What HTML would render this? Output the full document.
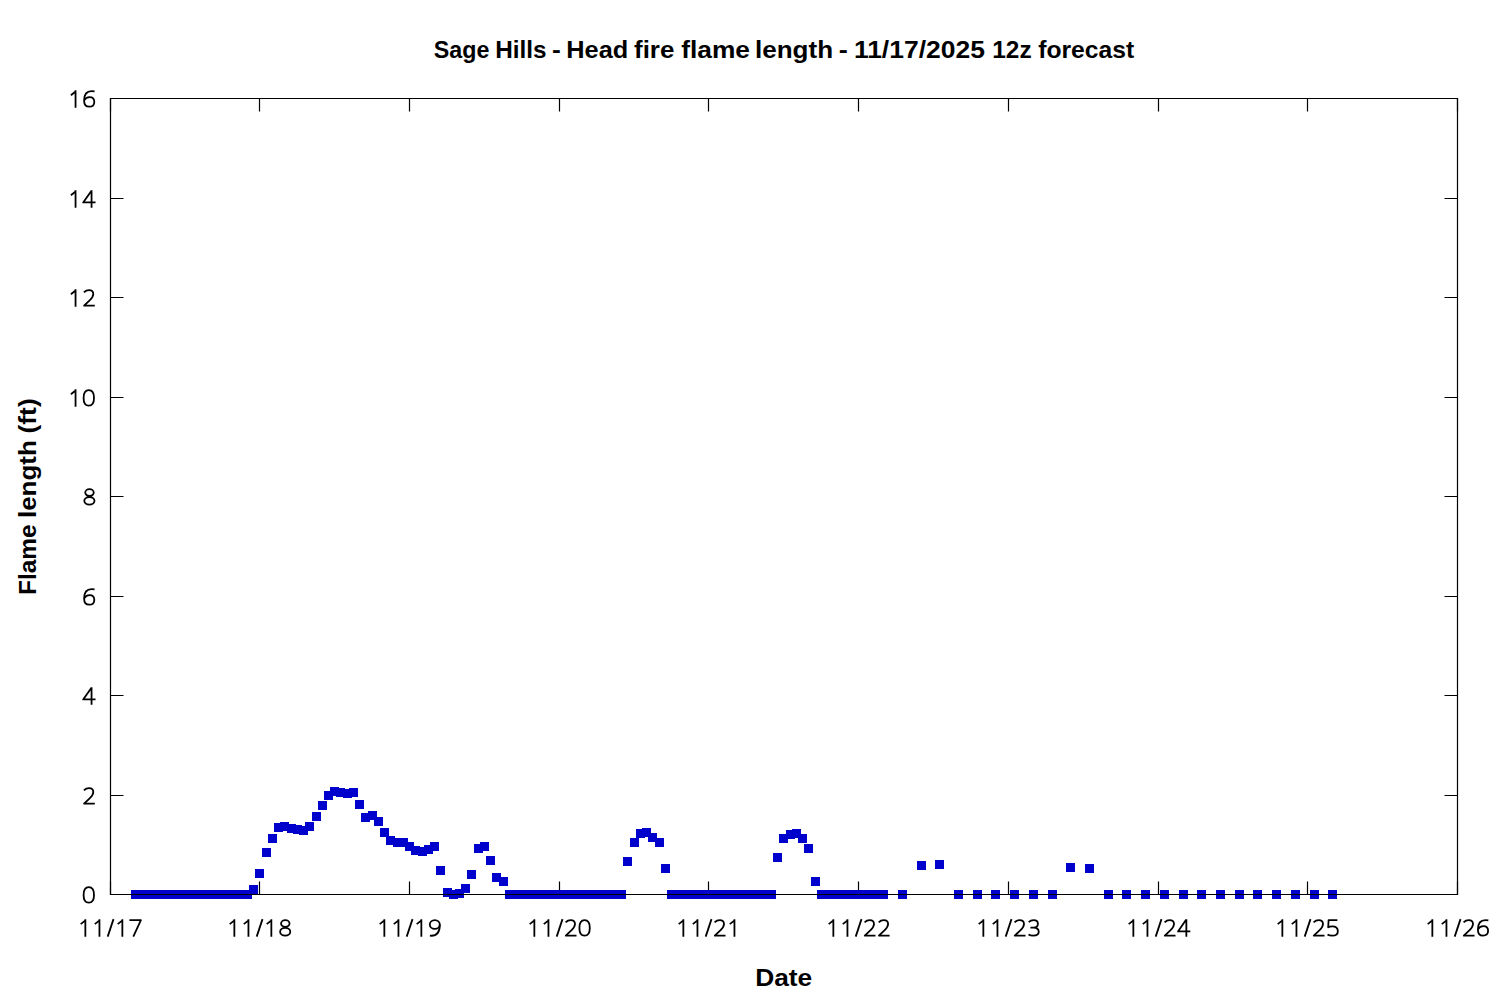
<!DOCTYPE html>
<html><head><meta charset="utf-8"><style>
html,body{margin:0;padding:0;background:#fff;}
svg{display:block;}
text{font-family:"Liberation Sans",sans-serif;fill:#000;}
</style></head><body>
<svg width="1500" height="1000" viewBox="0 0 1500 1000">
<rect x="0" y="0" width="1500" height="1000" fill="#fff"/>
<g font-size="24" font-weight="bold"><text x="433.78" y="58.3" textLength="55.58" lengthAdjust="spacingAndGlyphs">Sage</text><text x="495.22" y="58.3" textLength="51.37" lengthAdjust="spacingAndGlyphs">Hills</text><text x="552.10" y="58.3" textLength="8.80" lengthAdjust="spacingAndGlyphs">-</text><text x="566.29" y="58.3" textLength="61.89" lengthAdjust="spacingAndGlyphs">Head</text><text x="634.00" y="58.3" textLength="40.39" lengthAdjust="spacingAndGlyphs">fire</text><text x="681.20" y="58.3" textLength="68.77" lengthAdjust="spacingAndGlyphs">flame</text><text x="755.03" y="58.3" textLength="78.05" lengthAdjust="spacingAndGlyphs">length</text><text x="838.87" y="58.3" textLength="9.07" lengthAdjust="spacingAndGlyphs">-</text><text x="853.90" y="58.3" textLength="130.98" lengthAdjust="spacingAndGlyphs">11/17/2025</text><text x="992.28" y="58.3" textLength="39.44" lengthAdjust="spacingAndGlyphs">12z</text><text x="1038.20" y="58.3" textLength="95.99" lengthAdjust="spacingAndGlyphs">forecast</text></g>
<g fill="none" stroke="#000" stroke-width="1.8" stroke-linejoin="round">
<g transform="translate(82.20 886.20)"><path d="M6.6 1C10.2 1 11.8 3.6 11.8 8.75C11.8 13.9 10.2 16.5 6.6 16.5C3 16.5 1.4 13.9 1.4 8.75C1.4 3.6 3 1 6.6 1Z"/></g><g transform="translate(82.20 787.20)"><path d="M1.7 3.2C3.2 1.7 4.9 1 6.8 1C9.4 1 11.1 2.5 11.1 4.9C11.1 7.1 10 8.7 7.7 10.9L1.9 16.5H12.6"/></g><g transform="translate(82.20 687.20)"><path d="M9.35 0V17.5M13.35 12.25H1L9.1 0.7"/></g><g transform="translate(82.20 588.20)"><path d="M12.35 1.2C11.3 1 10.3 0.9 9.4 0.9C4.3 0.9 1.9 4.4 1.9 10.3C1.9 14.4 3.8 16.5 7 16.5C10.3 16.5 12.1 14.7 12.1 11.7C12.1 8.7 10.4 6.9 7.4 6.9C4.9 6.9 2.9 8.3 2.2 10"/></g><g transform="translate(82.20 488.20)"><ellipse cx="7.3" cy="4.35" rx="4.25" ry="3.35"/><ellipse cx="7.2" cy="12.65" rx="5.1" ry="3.85"/></g><g transform="translate(68.10 389.20)"><path d="M7.45 0V17.5M2.8 5L7.2 1.5"/></g><g transform="translate(82.20 389.20)"><path d="M6.6 1C10.2 1 11.8 3.6 11.8 8.75C11.8 13.9 10.2 16.5 6.6 16.5C3 16.5 1.4 13.9 1.4 8.75C1.4 3.6 3 1 6.6 1Z"/></g><g transform="translate(68.10 289.20)"><path d="M7.45 0V17.5M2.8 5L7.2 1.5"/></g><g transform="translate(82.20 289.20)"><path d="M1.7 3.2C3.2 1.7 4.9 1 6.8 1C9.4 1 11.1 2.5 11.1 4.9C11.1 7.1 10 8.7 7.7 10.9L1.9 16.5H12.6"/></g><g transform="translate(68.10 190.20)"><path d="M7.45 0V17.5M2.8 5L7.2 1.5"/></g><g transform="translate(82.20 190.20)"><path d="M9.35 0V17.5M13.35 12.25H1L9.1 0.7"/></g><g transform="translate(68.10 90.20)"><path d="M7.45 0V17.5M2.8 5L7.2 1.5"/></g><g transform="translate(82.20 90.20)"><path d="M12.35 1.2C11.3 1 10.3 0.9 9.4 0.9C4.3 0.9 1.9 4.4 1.9 10.3C1.9 14.4 3.8 16.5 7 16.5C10.3 16.5 12.1 14.7 12.1 11.7C12.1 8.7 10.4 6.9 7.4 6.9C4.9 6.9 2.9 8.3 2.2 10"/></g>
<g transform="translate(77.90 919.15)"><path d="M7.45 0V17.5M2.8 5L7.2 1.5"/></g><g transform="translate(92.00 919.15)"><path d="M7.45 0V17.5M2.8 5L7.2 1.5"/></g><g transform="translate(106.10 919.15)"><path d="M1.6 17.5L7.4 0"/></g><g transform="translate(114.90 919.15)"><path d="M7.45 0V17.5M2.8 5L7.2 1.5"/></g><g transform="translate(129.00 919.15)"><path d="M0.4 1H11.9L4.3 17.5"/></g><g transform="translate(226.90 919.15)"><path d="M7.45 0V17.5M2.8 5L7.2 1.5"/></g><g transform="translate(241.00 919.15)"><path d="M7.45 0V17.5M2.8 5L7.2 1.5"/></g><g transform="translate(255.10 919.15)"><path d="M1.6 17.5L7.4 0"/></g><g transform="translate(263.90 919.15)"><path d="M7.45 0V17.5M2.8 5L7.2 1.5"/></g><g transform="translate(278.00 919.15)"><ellipse cx="7.3" cy="4.35" rx="4.25" ry="3.35"/><ellipse cx="7.2" cy="12.65" rx="5.1" ry="3.85"/></g><g transform="translate(376.90 919.15)"><path d="M7.45 0V17.5M2.8 5L7.2 1.5"/></g><g transform="translate(391.00 919.15)"><path d="M7.45 0V17.5M2.8 5L7.2 1.5"/></g><g transform="translate(405.10 919.15)"><path d="M1.6 17.5L7.4 0"/></g><g transform="translate(413.90 919.15)"><path d="M7.45 0V17.5M2.8 5L7.2 1.5"/></g><g transform="translate(428.00 919.15)"><ellipse cx="6.8" cy="5.4" rx="5" ry="4.4"/><path d="M11.8 5.6C11.8 13 9 16.6 3.4 16.6C2.9 16.6 2.4 16.55 1.9 16.5"/></g><g transform="translate(526.90 919.15)"><path d="M7.45 0V17.5M2.8 5L7.2 1.5"/></g><g transform="translate(541.00 919.15)"><path d="M7.45 0V17.5M2.8 5L7.2 1.5"/></g><g transform="translate(555.10 919.15)"><path d="M1.6 17.5L7.4 0"/></g><g transform="translate(563.90 919.15)"><path d="M1.7 3.2C3.2 1.7 4.9 1 6.8 1C9.4 1 11.1 2.5 11.1 4.9C11.1 7.1 10 8.7 7.7 10.9L1.9 16.5H12.6"/></g><g transform="translate(578.00 919.15)"><path d="M6.6 1C10.2 1 11.8 3.6 11.8 8.75C11.8 13.9 10.2 16.5 6.6 16.5C3 16.5 1.4 13.9 1.4 8.75C1.4 3.6 3 1 6.6 1Z"/></g><g transform="translate(675.90 919.15)"><path d="M7.45 0V17.5M2.8 5L7.2 1.5"/></g><g transform="translate(690.00 919.15)"><path d="M7.45 0V17.5M2.8 5L7.2 1.5"/></g><g transform="translate(704.10 919.15)"><path d="M1.6 17.5L7.4 0"/></g><g transform="translate(712.90 919.15)"><path d="M1.7 3.2C3.2 1.7 4.9 1 6.8 1C9.4 1 11.1 2.5 11.1 4.9C11.1 7.1 10 8.7 7.7 10.9L1.9 16.5H12.6"/></g><g transform="translate(727.00 919.15)"><path d="M7.45 0V17.5M2.8 5L7.2 1.5"/></g><g transform="translate(825.90 919.15)"><path d="M7.45 0V17.5M2.8 5L7.2 1.5"/></g><g transform="translate(840.00 919.15)"><path d="M7.45 0V17.5M2.8 5L7.2 1.5"/></g><g transform="translate(854.10 919.15)"><path d="M1.6 17.5L7.4 0"/></g><g transform="translate(862.90 919.15)"><path d="M1.7 3.2C3.2 1.7 4.9 1 6.8 1C9.4 1 11.1 2.5 11.1 4.9C11.1 7.1 10 8.7 7.7 10.9L1.9 16.5H12.6"/></g><g transform="translate(877.00 919.15)"><path d="M1.7 3.2C3.2 1.7 4.9 1 6.8 1C9.4 1 11.1 2.5 11.1 4.9C11.1 7.1 10 8.7 7.7 10.9L1.9 16.5H12.6"/></g><g transform="translate(975.90 919.15)"><path d="M7.45 0V17.5M2.8 5L7.2 1.5"/></g><g transform="translate(990.00 919.15)"><path d="M7.45 0V17.5M2.8 5L7.2 1.5"/></g><g transform="translate(1004.10 919.15)"><path d="M1.6 17.5L7.4 0"/></g><g transform="translate(1012.90 919.15)"><path d="M1.7 3.2C3.2 1.7 4.9 1 6.8 1C9.4 1 11.1 2.5 11.1 4.9C11.1 7.1 10 8.7 7.7 10.9L1.9 16.5H12.6"/></g><g transform="translate(1027.00 919.15)"><path d="M1.7 2.9C3 1.7 4.8 1 6.6 1C9.3 1 10.9 2.3 10.9 4.5C10.9 6.9 9.1 8.4 6.6 8.4H3.4M6.6 8.4C10 8.5 11.75 10.2 11.75 12.6C11.75 15.1 9.6 16.5 6.2 16.5C4.3 16.5 2.6 16.1 1.5 15.4"/></g><g transform="translate(1125.90 919.15)"><path d="M7.45 0V17.5M2.8 5L7.2 1.5"/></g><g transform="translate(1140.00 919.15)"><path d="M7.45 0V17.5M2.8 5L7.2 1.5"/></g><g transform="translate(1154.10 919.15)"><path d="M1.6 17.5L7.4 0"/></g><g transform="translate(1162.90 919.15)"><path d="M1.7 3.2C3.2 1.7 4.9 1 6.8 1C9.4 1 11.1 2.5 11.1 4.9C11.1 7.1 10 8.7 7.7 10.9L1.9 16.5H12.6"/></g><g transform="translate(1177.00 919.15)"><path d="M9.35 0V17.5M13.35 12.25H1L9.1 0.7"/></g><g transform="translate(1274.90 919.15)"><path d="M7.45 0V17.5M2.8 5L7.2 1.5"/></g><g transform="translate(1289.00 919.15)"><path d="M7.45 0V17.5M2.8 5L7.2 1.5"/></g><g transform="translate(1303.10 919.15)"><path d="M1.6 17.5L7.4 0"/></g><g transform="translate(1311.90 919.15)"><path d="M1.7 3.2C3.2 1.7 4.9 1 6.8 1C9.4 1 11.1 2.5 11.1 4.9C11.1 7.1 10 8.7 7.7 10.9L1.9 16.5H12.6"/></g><g transform="translate(1326.00 919.15)"><path d="M11.35 1H2.6L2.2 8.1C3.4 7.4 4.8 7.2 6.3 7.2C9.6 7.2 11.85 9.1 11.85 12C11.85 15 9.7 16.5 6.2 16.5C4.3 16.5 2.6 16.1 1.5 15.4"/></g><g transform="translate(1424.90 919.15)"><path d="M7.45 0V17.5M2.8 5L7.2 1.5"/></g><g transform="translate(1439.00 919.15)"><path d="M7.45 0V17.5M2.8 5L7.2 1.5"/></g><g transform="translate(1453.10 919.15)"><path d="M1.6 17.5L7.4 0"/></g><g transform="translate(1461.90 919.15)"><path d="M1.7 3.2C3.2 1.7 4.9 1 6.8 1C9.4 1 11.1 2.5 11.1 4.9C11.1 7.1 10 8.7 7.7 10.9L1.9 16.5H12.6"/></g><g transform="translate(1476.00 919.15)"><path d="M12.35 1.2C11.3 1 10.3 0.9 9.4 0.9C4.3 0.9 1.9 4.4 1.9 10.3C1.9 14.4 3.8 16.5 7 16.5C10.3 16.5 12.1 14.7 12.1 11.7C12.1 8.7 10.4 6.9 7.4 6.9C4.9 6.9 2.9 8.3 2.2 10"/></g>
</g>
<g font-size="24" font-weight="bold"><text x="755.21" y="986" textLength="57.02" lengthAdjust="spacingAndGlyphs">Date</text></g>
<g transform="translate(36.3 0) rotate(-90)" font-size="24" font-weight="bold"><text x="-594.94" y="0" textLength="70.62" lengthAdjust="spacingAndGlyphs">Flame</text><text x="-518.07" y="0" textLength="77.95" lengthAdjust="spacingAndGlyphs">length</text><text x="-433.50" y="0" textLength="35.17" lengthAdjust="spacingAndGlyphs">(ft)</text></g>
<path d="M110.5 894.5h13M1457.5 894.5h-13M110.5 795.5h13M1457.5 795.5h-13M110.5 695.5h13M1457.5 695.5h-13M110.5 596.5h13M1457.5 596.5h-13M110.5 496.5h13M1457.5 496.5h-13M110.5 397.5h13M1457.5 397.5h-13M110.5 297.5h13M1457.5 297.5h-13M110.5 198.5h13M1457.5 198.5h-13M110.5 98.5h13M1457.5 98.5h-13M110.5 894.5v-13M110.5 98.5v13M259.5 894.5v-13M259.5 98.5v13M409.5 894.5v-13M409.5 98.5v13M559.5 894.5v-13M559.5 98.5v13M708.5 894.5v-13M708.5 98.5v13M858.5 894.5v-13M858.5 98.5v13M1008.5 894.5v-13M1008.5 98.5v13M1158.5 894.5v-13M1158.5 98.5v13M1307.5 894.5v-13M1307.5 98.5v13M1457.5 894.5v-13M1457.5 98.5v13" fill="none" stroke="#000" stroke-width="1.2"/>
<g fill="#0000cd" shape-rendering="crispEdges">
<rect x="131" y="890" width="9" height="9"/><rect x="137" y="890" width="9" height="9"/><rect x="143" y="890" width="9" height="9"/><rect x="149" y="890" width="9" height="9"/><rect x="156" y="890" width="9" height="9"/><rect x="162" y="890" width="9" height="9"/><rect x="168" y="890" width="9" height="9"/><rect x="174" y="890" width="9" height="9"/><rect x="181" y="890" width="9" height="9"/><rect x="187" y="890" width="9" height="9"/><rect x="193" y="890" width="9" height="9"/><rect x="199" y="890" width="9" height="9"/><rect x="205" y="890" width="9" height="9"/><rect x="212" y="890" width="9" height="9"/><rect x="218" y="890" width="9" height="9"/><rect x="224" y="890" width="9" height="9"/><rect x="230" y="890" width="9" height="9"/><rect x="237" y="890" width="9" height="9"/><rect x="243" y="890" width="9" height="9"/><rect x="249" y="885" width="9" height="9"/><rect x="255" y="869" width="9" height="9"/><rect x="262" y="848" width="9" height="9"/><rect x="268" y="834" width="9" height="9"/><rect x="274" y="823" width="9" height="9"/><rect x="280" y="822" width="9" height="9"/><rect x="287" y="824" width="9" height="9"/><rect x="293" y="825" width="9" height="9"/><rect x="299" y="826" width="9" height="9"/><rect x="305" y="822" width="9" height="9"/><rect x="312" y="812" width="9" height="9"/><rect x="318" y="801" width="9" height="9"/><rect x="324" y="791" width="9" height="9"/><rect x="330" y="787" width="9" height="9"/><rect x="336" y="788" width="9" height="9"/><rect x="343" y="789" width="9" height="9"/><rect x="349" y="788" width="9" height="9"/><rect x="355" y="800" width="9" height="9"/><rect x="361" y="813" width="9" height="9"/><rect x="368" y="811" width="9" height="9"/><rect x="374" y="817" width="9" height="9"/><rect x="380" y="828" width="9" height="9"/><rect x="386" y="836" width="9" height="9"/><rect x="393" y="838" width="9" height="9"/><rect x="399" y="838" width="9" height="9"/><rect x="405" y="842" width="9" height="9"/><rect x="411" y="846" width="9" height="9"/><rect x="418" y="847" width="9" height="9"/><rect x="424" y="845" width="9" height="9"/><rect x="430" y="842" width="9" height="9"/><rect x="436" y="866" width="9" height="9"/><rect x="443" y="888" width="9" height="9"/><rect x="449" y="890" width="9" height="9"/><rect x="455" y="889" width="9" height="9"/><rect x="461" y="884" width="9" height="9"/><rect x="467" y="870" width="9" height="9"/><rect x="474" y="844" width="9" height="9"/><rect x="480" y="842" width="9" height="9"/><rect x="486" y="856" width="9" height="9"/><rect x="492" y="873" width="9" height="9"/><rect x="499" y="877" width="9" height="9"/><rect x="505" y="890" width="9" height="9"/><rect x="511" y="890" width="9" height="9"/><rect x="517" y="890" width="9" height="9"/><rect x="524" y="890" width="9" height="9"/><rect x="530" y="890" width="9" height="9"/><rect x="536" y="890" width="9" height="9"/><rect x="542" y="890" width="9" height="9"/><rect x="549" y="890" width="9" height="9"/><rect x="555" y="890" width="9" height="9"/><rect x="561" y="890" width="9" height="9"/><rect x="567" y="890" width="9" height="9"/><rect x="574" y="890" width="9" height="9"/><rect x="580" y="890" width="9" height="9"/><rect x="586" y="890" width="9" height="9"/><rect x="592" y="890" width="9" height="9"/><rect x="598" y="890" width="9" height="9"/><rect x="605" y="890" width="9" height="9"/><rect x="611" y="890" width="9" height="9"/><rect x="617" y="890" width="9" height="9"/><rect x="623" y="857" width="9" height="9"/><rect x="630" y="838" width="9" height="9"/><rect x="636" y="829" width="9" height="9"/><rect x="642" y="828" width="9" height="9"/><rect x="648" y="833" width="9" height="9"/><rect x="655" y="838" width="9" height="9"/><rect x="661" y="864" width="9" height="9"/><rect x="667" y="890" width="9" height="9"/><rect x="673" y="890" width="9" height="9"/><rect x="680" y="890" width="9" height="9"/><rect x="686" y="890" width="9" height="9"/><rect x="692" y="890" width="9" height="9"/><rect x="698" y="890" width="9" height="9"/><rect x="705" y="890" width="9" height="9"/><rect x="711" y="890" width="9" height="9"/><rect x="717" y="890" width="9" height="9"/><rect x="723" y="890" width="9" height="9"/><rect x="729" y="890" width="9" height="9"/><rect x="736" y="890" width="9" height="9"/><rect x="742" y="890" width="9" height="9"/><rect x="748" y="890" width="9" height="9"/><rect x="754" y="890" width="9" height="9"/><rect x="761" y="890" width="9" height="9"/><rect x="767" y="890" width="9" height="9"/><rect x="773" y="853" width="9" height="9"/><rect x="779" y="834" width="9" height="9"/><rect x="786" y="830" width="9" height="9"/><rect x="792" y="829" width="9" height="9"/><rect x="798" y="834" width="9" height="9"/><rect x="804" y="844" width="9" height="9"/><rect x="811" y="877" width="9" height="9"/><rect x="817" y="890" width="9" height="9"/><rect x="823" y="890" width="9" height="9"/><rect x="829" y="890" width="9" height="9"/><rect x="836" y="890" width="9" height="9"/><rect x="842" y="890" width="9" height="9"/><rect x="848" y="890" width="9" height="9"/><rect x="854" y="890" width="9" height="9"/><rect x="860" y="890" width="9" height="9"/><rect x="867" y="890" width="9" height="9"/><rect x="873" y="890" width="9" height="9"/><rect x="879" y="890" width="9" height="9"/><rect x="898" y="890" width="9" height="9"/><rect x="917" y="861" width="9" height="9"/><rect x="935" y="860" width="9" height="9"/><rect x="954" y="890" width="9" height="9"/><rect x="973" y="890" width="9" height="9"/><rect x="991" y="890" width="9" height="9"/><rect x="1010" y="890" width="9" height="9"/><rect x="1029" y="890" width="9" height="9"/><rect x="1048" y="890" width="9" height="9"/><rect x="1066" y="863" width="9" height="9"/><rect x="1085" y="864" width="9" height="9"/><rect x="1104" y="890" width="9" height="9"/><rect x="1122" y="890" width="9" height="9"/><rect x="1141" y="890" width="9" height="9"/><rect x="1160" y="890" width="9" height="9"/><rect x="1179" y="890" width="9" height="9"/><rect x="1197" y="890" width="9" height="9"/><rect x="1216" y="890" width="9" height="9"/><rect x="1235" y="890" width="9" height="9"/><rect x="1253" y="890" width="9" height="9"/><rect x="1272" y="890" width="9" height="9"/><rect x="1291" y="890" width="9" height="9"/><rect x="1310" y="890" width="9" height="9"/><rect x="1328" y="890" width="9" height="9"/>
</g>
<path d="M110.5 98.5H1457.5V894.5H110.5Z" fill="none" stroke="#000" stroke-width="1.2"/>
</svg>
</body></html>
